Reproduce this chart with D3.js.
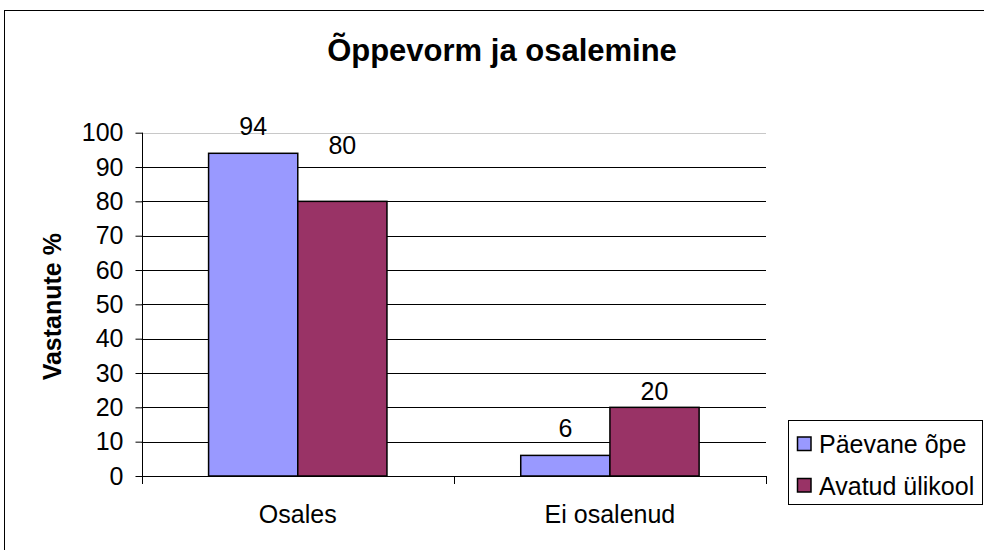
<!DOCTYPE html>
<html>
<head>
<meta charset="utf-8">
<script src="https://cdn.jsdelivr.net/npm/d3@7"></script>
<style>
  html, body { margin: 0; padding: 0; background: #fff; }
  svg { display: block; }
  text { font-family: "Liberation Sans", Arial, sans-serif; fill: #000; }
</style>
</head>
<body>
<svg id="chart" width="984" height="550"></svg>
<script>
// ---- data ----
const categories = ["Osales", "Ei osalenud"];
const seriesNames = ["Päevane õpe", "Avatud ülikool"];
const paevaneOpe = [94, 6];
const avatudUlikool = [80, 20];
const yTicks = [0, 10, 20, 30, 40, 50, 60, 70, 80, 90, 100];
const titleText = "Õppevorm ja osalemine";
const yTitleText = "Vastanute %";

// ---- layout / style ----
const colors = ["#9999FF", "#993366"];
const plot = { left: 141.7, right: 766, top: 132.7, bottom: 476 };
const labelLift = [[27, 56], [27.5, 16]]; // label centre above bar top, per category/series

const svg = d3.select("#chart");

// outer chart border
svg.append("rect")
  .attr("x", 4.5).attr("y", 10.5)
  .attr("width", 1000).attr("height", 600)
  .attr("fill", "none").attr("stroke", "#000").attr("stroke-width", 1);

const y = d3.scaleLinear().domain([0, 100]).range([plot.bottom, plot.top]);
const x0 = d3.scaleBand().domain(categories).range([plot.left, plot.right])
  .paddingInner(3 / 7).paddingOuter(1.5 / 7);
const x1 = d3.scaleBand().domain(seriesNames).range([0, x0.bandwidth()]).padding(0);

// gridlines
svg.append("g").selectAll("line")
  .data(yTicks.filter(d => d > 0))
  .join("line")
  .attr("x1", plot.left).attr("x2", plot.right)
  .attr("y1", d => Math.round(y(d)) + 0.5).attr("y2", d => Math.round(y(d)) + 0.5)
  .attr("stroke", d => d === 100 ? "#c8c8c8" : "#000")
  .attr("stroke-width", 1);

// bars
const series = [paevaneOpe, avatudUlikool];
const barData = [];
categories.forEach((c, i) => {
  seriesNames.forEach((s, j) => {
    barData.push({ cat: c, ser: s, ci: i, si: j, value: series[j][i] });
  });
});

svg.append("g").selectAll("rect")
  .data(barData)
  .join("rect")
  .attr("x", d => x0(d.cat) + x1(d.ser))
  .attr("y", d => y(d.value))
  .attr("width", x1.bandwidth())
  .attr("height", d => y(0) - y(d.value))
  .attr("fill", d => colors[d.si])
  .attr("stroke", "#000")
  .attr("stroke-width", 1.5);

// value labels
svg.append("g").selectAll("text")
  .data(barData)
  .join("text")
  .attr("x", d => x0(d.cat) + x1(d.ser) + x1.bandwidth() / 2)
  .attr("y", d => y(d.value) - labelLift[d.ci][d.si] + 9)
  .attr("text-anchor", "middle")
  .attr("font-size", 25)
  .text(d => d.value);

// y axis
const yAxis = d3.axisLeft(y).tickValues(yTicks).tickSize(7).tickPadding(12).tickSizeOuter(0);
const yg = svg.append("g").attr("transform", `translate(${Math.round(plot.left) + 0.5},0)`).call(yAxis);
yg.select(".domain").attr("stroke", "#000").attr("d", `M0,${plot.top}V${plot.bottom + 8}`);
yg.selectAll(".tick line").attr("stroke", "#000");
yg.selectAll(".tick text")
  .attr("font-size", 25)
  .attr("font-family", '"Liberation Sans", Arial, sans-serif')
  .attr("fill", "#000");

// x axis line and category boundary ticks
const step = x0.step();
const boundaries = d3.range(categories.length + 1).map(i => plot.left + i * step);
svg.append("line")
  .attr("x1", plot.left).attr("x2", plot.right)
  .attr("y1", Math.round(y(0)) + 0.5).attr("y2", Math.round(y(0)) + 0.5)
  .attr("stroke", "#000");
svg.append("g").selectAll("line")
  .data(boundaries.slice(1))
  .join("line")
  .attr("x1", d => Math.round(d) + 0.5).attr("x2", d => Math.round(d) + 0.5)
  .attr("y1", y(0)).attr("y2", y(0) + 8)
  .attr("stroke", "#000");

// category labels
svg.append("g").selectAll("text")
  .data(categories)
  .join("text")
  .attr("x", d => x0(d) + x0.bandwidth() / 2)
  .attr("y", 523)
  .attr("text-anchor", "middle")
  .attr("font-size", 25)
  .text(d => d);

// title
svg.append("text")
  .attr("x", 502).attr("y", 61)
  .attr("text-anchor", "middle")
  .attr("font-size", 31).attr("font-weight", "bold")
  .text(titleText);

// y axis title
svg.append("text")
  .attr("transform", `translate(61,306.7) rotate(-90)`)
  .attr("text-anchor", "middle")
  .attr("font-size", 25).attr("font-weight", "bold")
  .text(yTitleText);

// legend
const lg = svg.append("g");
lg.append("rect")
  .attr("x", 788.5).attr("y", 420.5)
  .attr("width", 194).attr("height", 84)
  .attr("fill", "#fff").attr("stroke", "#000").attr("stroke-width", 1);
const legRows = [444, 485.5];
seriesNames.forEach((s, j) => {
  lg.append("rect")
    .attr("x", 797.5).attr("y", legRows[j] - 7)
    .attr("width", 13.5).attr("height", 13.5)
    .attr("fill", colors[j]).attr("stroke", "#000").attr("stroke-width", 1.5);
  lg.append("text")
    .attr("x", 819).attr("y", legRows[j] + 9)
    .attr("font-size", 25)
    .text(s);
});
</script>
</body>
</html>
